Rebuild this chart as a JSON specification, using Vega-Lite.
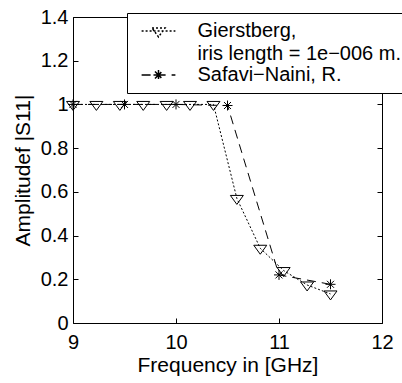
{
  "$schema": "https://vega.github.io/schema/vega-lite/v6.json",
  "width": 309,
  "height": 306,
  "autosize": "none",
  "padding": {"left": 73, "top": 17, "right": 20, "bottom": 60},
  "background": "white",
  "config": {
    "view": {"stroke": null},
    "font": "Liberation Sans",
    "style": {"guide-label": {"lineHeight": 23}},
    "axis": {
      "grid": false,
      "domainColor": "black",
      "domainWidth": 1,
      "tickColor": "black",
      "tickWidth": 1,
      "tickSize": -5,
      "labelColor": "black",
      "labelFont": "Liberation Sans",
      "labelFontSize": 20,
      "titleFont": "Liberation Sans",
      "titleFontSize": 21,
      "titleFontWeight": "normal",
      "titleColor": "black"
    }
  },
  "data": {
    "values": [
      {"series": "Gierstberg", "f": 9.0, "a": 1.0},
      {"series": "Gierstberg", "f": 9.227, "a": 1.0},
      {"series": "Gierstberg", "f": 9.455, "a": 1.0},
      {"series": "Gierstberg", "f": 9.682, "a": 1.0},
      {"series": "Gierstberg", "f": 9.909, "a": 1.0},
      {"series": "Gierstberg", "f": 10.136, "a": 1.0},
      {"series": "Gierstberg", "f": 10.364, "a": 1.0},
      {"series": "Gierstberg", "f": 10.591, "a": 0.57},
      {"series": "Gierstberg", "f": 10.818, "a": 0.342},
      {"series": "Gierstberg", "f": 11.045, "a": 0.24},
      {"series": "Gierstberg", "f": 11.273, "a": 0.174},
      {"series": "Gierstberg", "f": 11.5, "a": 0.133},
      {"series": "Safavi", "f": 9.0, "a": 1.0},
      {"series": "Safavi", "f": 9.5, "a": 1.0},
      {"series": "Safavi", "f": 10.0, "a": 1.0},
      {"series": "Safavi", "f": 10.5, "a": 0.995},
      {"series": "Safavi", "f": 11.0, "a": 0.22},
      {"series": "Safavi", "f": 11.5, "a": 0.177}
    ]
  },
  "layer": [
    {
      "mark": {"type": "line", "color": "black", "strokeWidth": 1},
      "encoding": {
        "x": {
          "field": "f", "type": "quantitative",
          "scale": {"domain": [9, 12], "nice": false, "zero": false},
          "axis": {"orient": "bottom", "values": [9, 10, 11, 12], "title": "Frequency in [GHz]", "labelPadding": 14, "titlePadding": 2, "labelFlush": false}
        },
        "y": {
          "field": "a", "type": "quantitative",
          "scale": {"domain": [0, 1.4], "nice": false, "zero": false},
          "axis": {"orient": "left", "values": [0, 0.2, 0.4, 0.6, 0.8, 1, 1.2, 1.4], "format": ".1~f", "title": "Amplitudef |S11|", "labelPadding": 10, "titlePadding": 7, "labelFlush": false}
        },
        "strokeDash": {
          "field": "series", "type": "nominal",
          "scale": {"domain": ["Gierstberg", "Safavi"], "range": [[2, 2], [9, 6]]},
          "legend": {
            "orient": "none",
            "legendX": 54,
            "legendY": -4,
            "title": null,
            "padding": 8,
            "fillColor": "white",
            "strokeColor": "black",
            "cornerRadius": 0,
            "symbolSize": 169,
            "symbolOffset": 13.5,
            "labelOffset": 29,
            "labelFont": "Liberation Sans",
            "labelFontSize": 20,
            "labelColor": "black",
            "labelLimit": 400,
            "labelBaseline": "middle",
            "rowPadding": 1,
            "labelExpr": "datum.value == 'Gierstberg' ? ['Gierstberg,', 'iris length = 1e\u2212006 m.'] : 'Safavi\u2212Naini, R.'"
          }
        }
      }
    },
    {
      "transform": [{"filter": "datum.series == 'Gierstberg'"}],
      "mark": {"type": "point", "filled": false, "color": "black", "strokeWidth": 1, "size": 169, "opacity": 1, "shape": "M-1,-0.46L1,-0.46L0,0.92Z"},
      "encoding": {
        "x": {
          "field": "f", "type": "quantitative",
          "scale": {"domain": [9, 12], "nice": false, "zero": false},
          "axis": {"orient": "top", "values": [9, 10, 11, 12], "labels": false, "title": null}
        },
        "y": {
          "field": "a", "type": "quantitative",
          "scale": {"domain": [0, 1.4], "nice": false, "zero": false},
          "axis": {"orient": "right", "values": [0, 0.2, 0.4, 0.6, 0.8, 1, 1.2, 1.4], "labels": false, "title": null}
        }
      }
    },
    {
      "transform": [{"filter": "datum.series == 'Safavi'"}],
      "mark": {"type": "point", "filled": false, "color": "black", "strokeWidth": 1, "size": 169, "opacity": 1, "shape": "M-0.77,0L0.77,0M0,-0.77L0,0.77M-0.54,-0.54L0.54,0.54M-0.54,0.54L0.54,-0.54"},
      "encoding": {
        "x": {
          "field": "f", "type": "quantitative",
          "scale": {"domain": [9, 12], "nice": false, "zero": false},
          "axis": null
        },
        "y": {
          "field": "a", "type": "quantitative",
          "scale": {"domain": [0, 1.4], "nice": false, "zero": false},
          "axis": null
        }
      }
    },
    {
      "mark": {"type": "point", "filled": false, "color": "black", "strokeWidth": 1, "size": 169, "opacity": 0},
      "encoding": {
        "x": {
          "field": "f", "type": "quantitative",
          "scale": {"domain": [9, 12], "nice": false, "zero": false},
          "axis": null
        },
        "y": {
          "field": "a", "type": "quantitative",
          "scale": {"domain": [0, 1.4], "nice": false, "zero": false},
          "axis": null
        },
        "shape": {
          "field": "series", "type": "nominal",
          "scale": {
            "domain": ["Gierstberg", "Safavi"],
            "range": [
              "M-2.6,0L2.6,0M-1,-0.46L1,-0.46L0,0.92Z",
              "M-2.6,0L2.6,0M-0.77,0L0.77,0M0,-0.77L0,0.77M-0.54,-0.54L0.54,0.54M-0.54,0.54L0.54,-0.54"
            ]
          },
          "legend": null
        }
      }
    }
  ],
  "resolve": {"axis": {"x": "independent", "y": "independent"}}
}
